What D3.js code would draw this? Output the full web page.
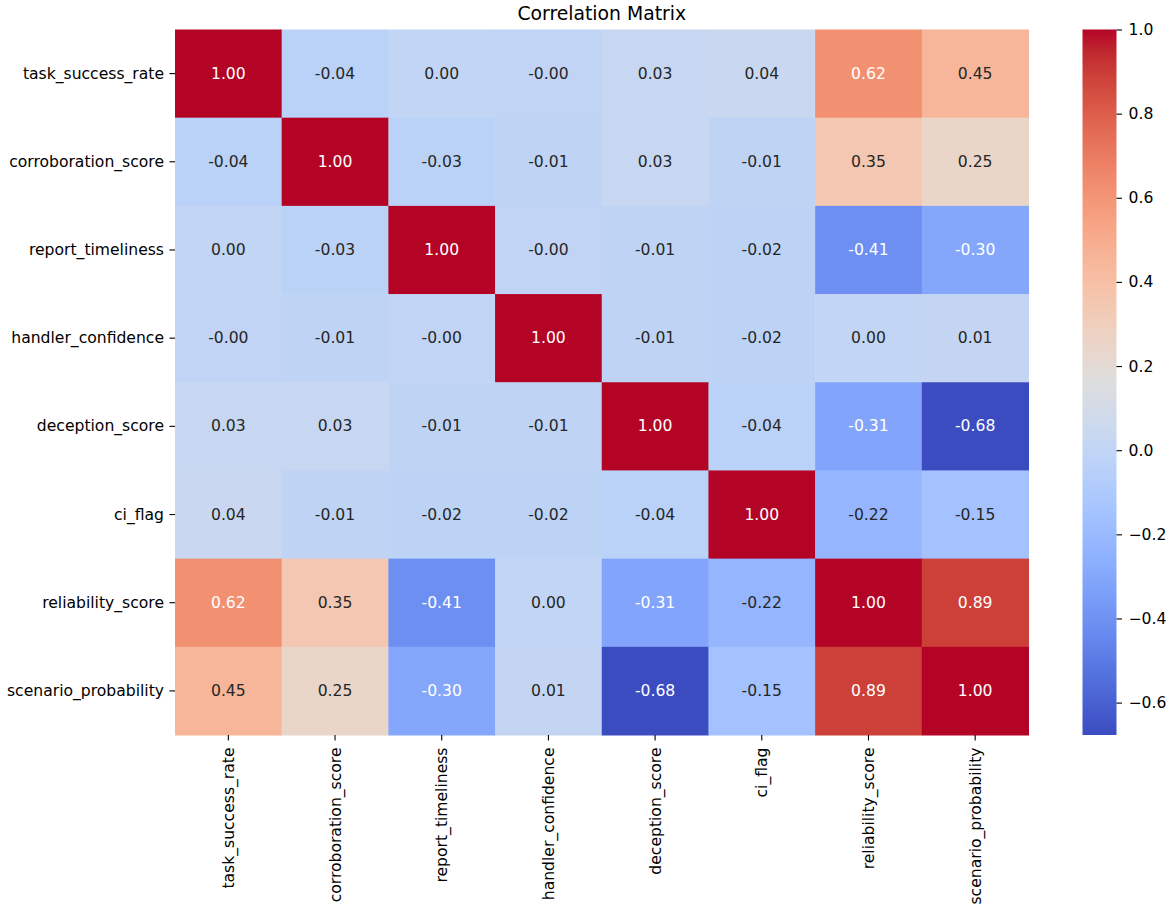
<!DOCTYPE html>
<html>
<head>
<meta charset="utf-8">
<script src="https://cdn.jsdelivr.net/npm/d3@7"></script>
<style>
  html, body { margin: 0; padding: 0; background: #fff; }
  svg { display: block; font-family: "DejaVu Sans", sans-serif; }
</style>
</head>
<body>
<svg id="chart" width="1170" height="913"></svg>
<script>
const labels = ["task_success_rate", "corroboration_score", "report_timeliness", "handler_confidence",
                "deception_score", "ci_flag", "reliability_score", "scenario_probability"];

const row_task_success_rate    = [1.00, -0.04, 0.002, -0.002, 0.03, 0.04, 0.62, 0.45];
const row_corroboration_score  = [-0.04, 1.00, -0.03, -0.01, 0.03, -0.01, 0.35, 0.25];
const row_report_timeliness    = [0.002, -0.03, 1.00, -0.002, -0.01, -0.02, -0.41, -0.30];
const row_handler_confidence   = [-0.002, -0.01, -0.002, 1.00, -0.01, -0.02, 0.002, 0.01];
const row_deception_score      = [0.03, 0.03, -0.01, -0.01, 1.00, -0.04, -0.31, -0.677];
const row_ci_flag              = [0.04, -0.01, -0.02, -0.02, -0.04, 1.00, -0.22, -0.15];
const row_reliability_score    = [0.62, 0.35, -0.41, 0.002, -0.31, -0.22, 1.00, 0.89];
const row_scenario_probability = [0.45, 0.25, -0.30, 0.01, -0.677, -0.15, 0.89, 1.00];

const matrix = [row_task_success_rate, row_corroboration_score, row_report_timeliness, row_handler_confidence,
                row_deception_score, row_ci_flag, row_reliability_score, row_scenario_probability];

const colorbarTicks = [-0.6, -0.4, -0.2, 0.0, 0.2, 0.4, 0.6, 0.8, 1.0];
const titleText = "Correlation Matrix";

// matplotlib coolwarm (Moreland) control colors
const coolwarmStops = [
  [59,76,192],[68,90,204],[77,104,215],[87,117,225],[98,130,234],[108,142,241],[119,154,247],[130,165,251],
  [141,176,254],[152,185,255],[163,194,255],[174,201,253],[184,208,249],[194,213,244],[204,217,238],[213,219,230],
  [221,221,221],[229,216,209],[236,211,197],[241,204,184],[245,196,172],[247,187,160],[247,177,148],[247,166,135],
  [244,154,123],[241,141,111],[236,127,99],[229,112,88],[222,96,77],[213,80,66],[203,62,56],[192,40,47],[180,4,38]
];

const vmin = -0.677, vmax = 1.0;
const FS = "15.6px";

const coolwarm = d3.scaleLinear()
  .domain(coolwarmStops.map((_, i) => i / (coolwarmStops.length - 1)))
  .range(coolwarmStops.map(c => d3.rgb(c[0], c[1], c[2])))
  .interpolate(d3.interpolateRgb)
  .clamp(true);
const norm = d3.scaleLinear().domain([vmin, vmax]).range([0, 1]).clamp(true);
const color = v => coolwarm(norm(v));

function luminance(c) {
  const rgb = d3.rgb(c);
  const f = x => { x /= 255; return x <= 0.03928 ? x / 12.92 : Math.pow((x + 0.055) / 1.055, 2.4); };
  return 0.2126 * f(rgb.r) + 0.7152 * f(rgb.g) + 0.0722 * f(rgb.b);
}

const svg = d3.select("#chart");
const pLeft = 175, pRight = 1028.5, pTop = 29.5, pBottom = 735;

const x = d3.scaleBand().domain(labels).range([pLeft, pRight]).padding(0);
const y = d3.scaleBand().domain(labels).range([pTop, pBottom]).padding(0);

const cells = [];
matrix.forEach((row, i) => row.forEach((v, j) => cells.push({r: labels[i], c: labels[j], v})));

svg.append("g").selectAll("rect").data(cells).join("rect")
  .attr("x", d => x(d.c)).attr("y", d => y(d.r))
  .attr("width", x.bandwidth() + 0.5).attr("height", y.bandwidth() + 0.5)
  .attr("fill", d => color(d.v));

svg.append("g").selectAll("text").data(cells).join("text")
  .attr("x", d => x(d.c) + x.bandwidth() / 2)
  .attr("y", d => y(d.r) + y.bandwidth() / 2)
  .attr("text-anchor", "middle").attr("dominant-baseline", "central")
  .attr("font-size", FS)
  .attr("fill", d => luminance(color(d.v)) < 0.408 ? "#ffffff" : "#262626")
  .text(d => d.v.toFixed(2));

// Axes
const yAxis = d3.axisLeft(y).tickSize(5.5).tickPadding(5.5);
const gy = svg.append("g").attr("transform", `translate(${pLeft},0)`).call(yAxis);
gy.select(".domain").remove();
gy.selectAll("text").attr("font-size", FS).attr("fill", "#000").attr("font-family", "DejaVu Sans, sans-serif");
gy.selectAll("line").attr("stroke", "#000").attr("stroke-width", 1.1);

const xAxis = d3.axisBottom(x).tickSize(5.5).tickPadding(5.5);
const gx = svg.append("g").attr("transform", `translate(0,${pBottom})`).call(xAxis);
gx.select(".domain").remove();
gx.selectAll("line").attr("stroke", "#000").attr("stroke-width", 1.1);
gx.selectAll("text")
  .attr("font-size", FS).attr("fill", "#000").attr("font-family", "DejaVu Sans, sans-serif")
  .attr("transform", "rotate(-90)")
  .attr("text-anchor", "end")
  .attr("dy", "0.35em")
  .attr("x", -12.5).attr("y", 0);

// Title
svg.append("text")
  .attr("x", (pLeft + pRight) / 2).attr("y", 20)
  .attr("text-anchor", "middle").attr("font-size", "18.8px").attr("fill", "#000")
  .text(titleText);

// Colorbar
const cbLeft = 1082.5, cbRight = 1116.5;
const cbScale = d3.scaleLinear().domain([vmin, vmax]).range([pBottom, pTop]);
const defs = svg.append("defs");
const grad = defs.append("linearGradient").attr("id", "cbgrad")
  .attr("x1", 0).attr("y1", 1).attr("x2", 0).attr("y2", 0);
d3.range(0, 1.0001, 1 / 64).forEach(t => {
  grad.append("stop").attr("offset", t).attr("stop-color", coolwarm(t));
});
svg.append("rect").attr("x", cbLeft).attr("y", pTop)
  .attr("width", cbRight - cbLeft).attr("height", pBottom - pTop)
  .attr("fill", "url(#cbgrad)");

const cbAxis = d3.axisRight(cbScale).tickValues(colorbarTicks).tickSize(5.5).tickPadding(6.5)
  .tickFormat(d3.format(".1f"));
const gcb = svg.append("g").attr("transform", `translate(${cbRight},0)`).call(cbAxis);
gcb.select(".domain").remove();
gcb.selectAll("line").attr("stroke", "#000").attr("stroke-width", 1.1);
gcb.selectAll("text").attr("font-size", FS).attr("fill", "#000").attr("font-family", "DejaVu Sans, sans-serif");
</script>
</body>
</html>
